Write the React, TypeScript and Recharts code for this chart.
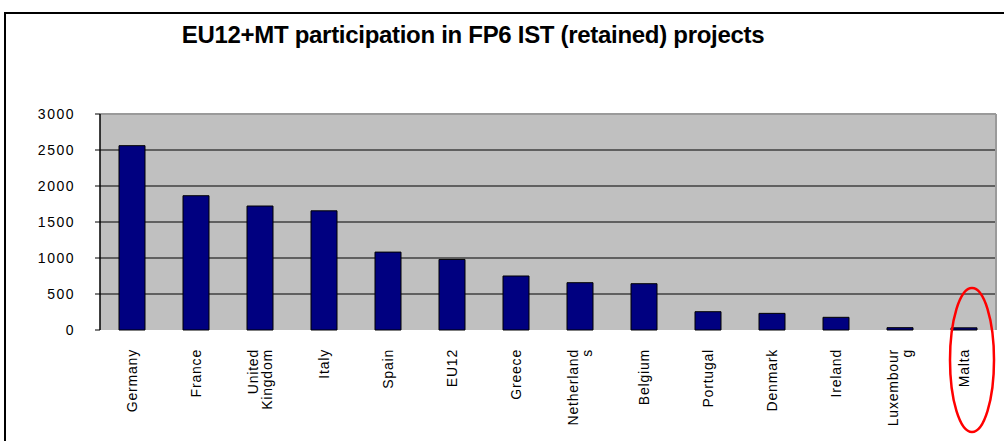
import React from "react";
import { BarChart, Bar, XAxis, YAxis, CartesianGrid, ReferenceLine } from "recharts";

const countries = [
	"Germany",
	"France",
	"United Kingdom",
	"Italy",
	"Spain",
	"EU12",
	"Greece",
	"Netherlands",
	"Belgium",
	"Portugal",
	"Denmark",
	"Ireland",
	"Luxembourg",
	"Malta",
];
const participations = [2560, 1865, 1722, 1655, 1082, 980, 750, 657, 643, 254, 231, 176, 32, 30];
const yTicks = [0, 500, 1000, 1500, 2000, 2500, 3000];

// Excel wrapped the long names inside a narrow label box
const labelLines: Record<string, string[]> = {
	"United Kingdom": ["United", "Kingdom"],
	Netherlands: ["Netherland", "s"],
	Luxembourg: ["Luxembour", "g"],
};

const data = countries.map((name, i) => ({ name, value: participations[i], pos: i + 0.5 }));

const font = "'Liberation Sans', Arial, sans-serif";

const CountryTick = (props: any) => {
	const { x, y, payload } = props;
	const lines = labelLines[payload.value] || [payload.value];
	const start = -((lines.length - 1) / 2) * 1.05;
	return (
		<text
			transform={`translate(${x},${y + 11}) rotate(-90)`}
			textAnchor="end"
			fontFamily={font}
			fontSize={14}
			letterSpacing={0.8}
			fill="#000"
		>
			{lines.map((l, i) => (
				<tspan key={l} x={0} dy={i === 0 ? `${start + 0.35}em` : "1.05em"}>
					{l}
				</tspan>
			))}
		</text>
	);
};

export default function App() {
	return (
		<div style={{ position: "absolute", left: 0, top: 0, width: 1004, height: 441, background: "#fff" }}>
			<div
				style={{
					position: "absolute",
					left: 4,
					top: 12,
					width: 1010,
					height: 440,
					borderTop: "2px solid #000",
					borderLeft: "2px solid #000",
					boxSizing: "border-box",
				}}
			/>
			<div
				style={{
					position: "absolute",
					left: 0,
					width: 946,
					top: 21,
					textAlign: "center",
					fontFamily: font,
					fontWeight: "bold",
					fontSize: 24,
					letterSpacing: -0.3,
					color: "#000",
				}}
			>
				EU12+MT participation in FP6 IST (retained) projects
			</div>
			<div style={{ position: "absolute", left: 0, top: 0 }}>
				<BarChart width={1004} height={441} data={data} margin={{ top: 114, right: 4, left: 0, bottom: 0 }} barCategoryGap={0}>
					<CartesianGrid fill="#C0C0C0" stroke="#000" vertical={false} horizontalValues={[500, 1000, 1500, 2000, 2500]} />
					<ReferenceLine y={3000} stroke="#9a9a9a" strokeWidth={2} />
					<XAxis
						xAxisId="edges"
						type="number"
						dataKey="pos"
						domain={[0, countries.length]}
						ticks={countries.map((_, i) => i).concat([countries.length])}
						height={0}
						tick={false}
						tickLine={{ stroke: "#000" }}
						tickSize={6}
						axisLine={{ stroke: "#000", strokeWidth: 1.5 }}
					/>
					<XAxis
						dataKey="name"
						interval={0}
						height={111}
						axisLine={false}
						tickLine={false}
						tick={<CountryTick />}
					/>
					<YAxis
						width={100}
						domain={[0, 3000]}
						ticks={yTicks}
						interval={0}
						tickSize={5}
						tickMargin={20}
						axisLine={{ stroke: "#000", strokeWidth: 1.5 }}
						tickLine={{ stroke: "#000" }}
						tick={{ fill: "#000", fontSize: 14, fontFamily: font, letterSpacing: 1.5 }}
					/>
					<YAxis
						yAxisId="frame"
						orientation="right"
						width={4}
						domain={[0, 3000]}
						tick={false}
						tickLine={false}
						axisLine={{ stroke: "#9a9a9a", strokeWidth: 2 }}
					/>
					<Bar dataKey="value" fill="#000080" stroke="#000" strokeWidth={1} barSize={26} isAnimationActive={false} />
				</BarChart>
			</div>
			<svg style={{ position: "absolute", left: 0, top: 0 }} width={1004} height={441}>
				<ellipse cx={972} cy={360} rx={22} ry={72} fill="none" stroke="#ff0000" strokeWidth={2.5} />
			</svg>
		</div>
	);
}
